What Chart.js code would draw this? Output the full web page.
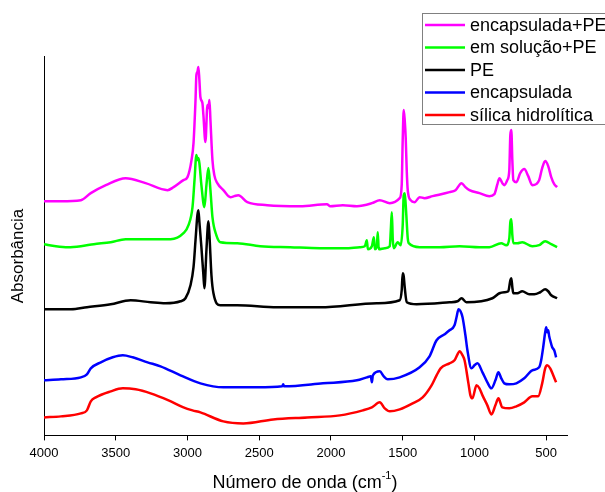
<!DOCTYPE html>
<html>
<head>
<meta charset="utf-8">
<script src="https://cdn.jsdelivr.net/npm/chart.js@4.4.0/dist/chart.umd.min.js"></script>
<style>
  html, body { margin: 0; padding: 0; background: #fff; }
  #wrap { width: 605px; height: 492px; }
</style>
</head>
<body>
<div id="wrap"><canvas id="ftir" width="605" height="492"></canvas></div>
<script>
// x ticks (cm-1)
const tickValues = [4000, 3500, 3000, 2500, 2000, 1500, 1000, 500];

const seriesNames = ["encapsulada+PE", "em solução+PE", "PE", "encapsulada", "sílica hidrolítica"];
const seriesColors = ["#ff00ff", "#00ff00", "#000000", "#0000ff", "#ff0000"];

// encapsulada+PE
const encPeWn = [4000,3882,3743,3674,3569,3431,3292,3139,3097,3028,3000,2972,2958,2944,2938,2931,2924,2917,2910,2896,2889,2875,2861,2854,2847,2840,2826,2813,2792,2750,2701,2674,2646,2583,2444,2215,2028,2007,1917,1819,1715,1660,1590,1521,1507,1500,1493,1486,1479,1472,1465,1445,1417,1382,1347,1292,1174,1132,1090,1063,1035,965,896,861,840,826,806,792,771,757,750,743,736,729,708,681,653,625,597,570,549,528,507,486,465,444,424];
const encPeAbs = [2.34,2.34,2.35,2.42,2.50,2.57,2.52,2.45,2.48,2.55,2.58,2.75,2.92,3.35,3.60,3.63,3.68,3.55,3.38,3.32,3.20,2.93,3.30,3.27,3.35,3.15,2.75,2.60,2.52,2.45,2.38,2.39,2.40,2.33,2.30,2.29,2.31,2.29,2.30,2.29,2.32,2.35,2.32,2.37,2.50,2.95,3.25,3.15,2.97,2.65,2.45,2.35,2.33,2.38,2.37,2.39,2.43,2.45,2.52,2.48,2.45,2.42,2.39,2.41,2.51,2.57,2.52,2.50,2.55,2.65,3.00,3.05,2.75,2.55,2.53,2.62,2.66,2.59,2.50,2.51,2.55,2.67,2.74,2.69,2.58,2.51,2.48];

// em solução+PE
const solPeWn = [4000,3917,3833,3743,3653,3535,3431,3257,3118,3028,2993,2965,2951,2938,2931,2924,2917,2903,2882,2868,2854,2840,2826,2799,2771,2653,2493,2285,2076,1903,1799,1764,1750,1743,1715,1701,1694,1681,1674,1667,1625,1590,1583,1576,1569,1562,1535,1514,1500,1493,1486,1479,1472,1465,1458,1382,1243,1104,965,896,813,778,757,750,743,736,729,701,667,597,549,507,465,424];
const solPeAbs = [1.91,1.89,1.88,1.89,1.91,1.93,1.96,1.96,1.96,2.02,2.10,2.28,2.55,2.80,2.75,2.77,2.72,2.50,2.28,2.50,2.67,2.45,2.18,2.00,1.93,1.92,1.89,1.88,1.87,1.87,1.88,1.89,1.95,1.86,1.89,1.98,1.86,1.88,2.03,1.86,1.87,1.89,2.05,2.23,1.95,1.87,1.93,1.90,2.10,2.40,2.42,2.30,2.13,1.97,1.92,1.88,1.88,1.89,1.88,1.88,1.92,1.90,1.97,2.13,2.16,2.00,1.92,1.92,1.93,1.89,1.90,1.94,1.91,1.88];

// PE
const peWn = [4000,3812,3701,3535,3396,3257,3153,3049,3014,2979,2958,2944,2931,2924,2917,2903,2889,2882,2868,2854,2847,2833,2819,2771,2653,2375,2076,1681,1521,1507,1500,1493,1486,1472,1403,1174,1118,1090,1056,875,826,792,764,750,743,736,729,701,667,618,583,542,507,486,465,424];
const peAbs = [1.26,1.26,1.28,1.31,1.35,1.33,1.32,1.34,1.37,1.50,1.68,1.95,2.20,2.25,2.13,1.88,1.60,1.47,1.85,2.14,2.00,1.60,1.42,1.30,1.30,1.28,1.28,1.32,1.35,1.45,1.62,1.59,1.48,1.33,1.31,1.33,1.34,1.37,1.33,1.37,1.42,1.43,1.44,1.55,1.57,1.48,1.42,1.42,1.44,1.41,1.41,1.43,1.46,1.44,1.40,1.37];

// encapsulada
const encWn = [4000,3882,3743,3701,3674,3604,3521,3451,3382,3278,3188,3049,2910,2750,2514,2340,2333,2326,2056,1819,1750,1722,1715,1708,1660,1632,1604,1521,1382,1313,1264,1208,1174,1139,1125,1111,1097,1083,1063,1049,1021,1000,979,944,910,882,854,833,813,792,757,708,653,597,549,535,521,507,500,493,486,479,472,458,444,431];
const encAbs = [0.55,0.56,0.58,0.61,0.67,0.73,0.78,0.80,0.78,0.73,0.69,0.60,0.52,0.48,0.48,0.49,0.51,0.49,0.52,0.55,0.58,0.59,0.53,0.60,0.64,0.59,0.56,0.58,0.68,0.79,0.95,1.01,1.05,1.10,1.18,1.26,1.24,1.18,1.00,0.85,0.67,0.70,0.72,0.63,0.53,0.47,0.55,0.63,0.57,0.52,0.51,0.52,0.57,0.65,0.68,0.75,0.88,1.03,1.08,1.03,1.05,0.99,0.95,0.88,0.85,0.78];

// sílica hidrolítica
const silWn = [4000,3882,3743,3701,3674,3639,3535,3451,3361,3257,3132,3028,2965,2910,2750,2611,2403,2167,1938,1778,1715,1660,1625,1590,1521,1431,1361,1299,1264,1236,1174,1139,1118,1104,1083,1069,1042,1028,1014,986,965,944,910,882,854,833,806,757,708,653,597,556,528,507,493,472,451,431];
const silAbs = [0.18,0.19,0.22,0.25,0.34,0.38,0.44,0.47,0.46,0.42,0.35,0.28,0.25,0.23,0.14,0.12,0.16,0.18,0.20,0.25,0.28,0.33,0.27,0.24,0.26,0.32,0.38,0.50,0.60,0.67,0.72,0.75,0.81,0.84,0.80,0.75,0.52,0.40,0.37,0.50,0.47,0.40,0.30,0.21,0.30,0.37,0.28,0.27,0.29,0.33,0.39,0.39,0.52,0.67,0.70,0.67,0.60,0.53];

const allWn = [encPeWn, solPeWn, peWn, encWn, silWn];
const allAbs = [encPeAbs, solPeAbs, peAbs, encAbs, silAbs];

const FONT = "'Liberation Sans', Arial, sans-serif";

const datasets = seriesNames.map((name, i) => ({
  label: name,
  data: allWn[i].map((w, j) => ({ x: w, y: allAbs[i][j] })),
  borderColor: seriesColors[i],
  borderWidth: 2.5,
  pointRadius: 0,
  fill: false,
  cubicInterpolationMode: "monotone"
}));

// legend box + axis titles
const extras = {
  id: "extras",
  afterDraw(chart) {
    const ctx = chart.ctx;
    ctx.save();

    // legend
    ctx.fillStyle = "#fff";
    ctx.fillRect(422, 13, 200, 111);
    ctx.strokeStyle = "#808080";
    ctx.lineWidth = 1;
    ctx.strokeRect(422.5, 13.5, 200, 111);
    ctx.font = "18px " + FONT;
    ctx.textBaseline = "middle";
    ctx.textAlign = "left";
    seriesNames.forEach((name, i) => {
      const y = 25 + i * 22.5;
      ctx.strokeStyle = seriesColors[i];
      ctx.lineWidth = 2.5;
      ctx.beginPath();
      ctx.moveTo(425, y);
      ctx.lineTo(465, y);
      ctx.stroke();
      ctx.fillStyle = "#000";
      ctx.fillText(name, 470, y + 1);
    });

    // x title with superscript
    ctx.fillStyle = "#000";
    ctx.font = "18px " + FONT;
    const a = "Número de onda (cm", sup = "-1", b = ")";
    const wa = ctx.measureText(a).width;
    ctx.font = "11px " + FONT;
    const ws = ctx.measureText(sup).width;
    ctx.font = "18px " + FONT;
    const wb = ctx.measureText(b).width;
    let x0 = 305 - (wa + ws + wb) / 2;
    ctx.fillText(a, x0, 483);
    ctx.font = "11px " + FONT;
    ctx.fillText(sup, x0 + wa, 476);
    ctx.font = "18px " + FONT;
    ctx.fillText(b, x0 + wa + ws, 483);

    // y title
    ctx.translate(18, 256);
    ctx.rotate(-Math.PI / 2);
    ctx.textAlign = "center";
    ctx.font = "17px " + FONT;
    ctx.fillText("Absorbância", 0, 0);

    ctx.restore();
  }
};

new Chart(document.getElementById("ftir"), {
  type: "line",
  data: { datasets },
  options: {
    responsive: false,
    animation: false,
    layout: { padding: { left: 36, right: 38, top: 56, bottom: 26 } },
    plugins: { legend: { display: false }, tooltip: { enabled: false } },
    scales: {
      x: {
        type: "linear",
        reverse: true,
        min: 355,
        max: 4000,
        afterBuildTicks: axis => { axis.ticks = tickValues.map(v => ({ value: v })); },
        ticks: {
          color: "#000",
          font: { family: FONT, size: 13 },
          padding: 5,
          maxRotation: 0,
          autoSkip: false,
          callback: v => String(v)
        },
        grid: { drawOnChartArea: false, drawTicks: true, tickLength: 5, color: "#000" },
        border: { color: "#000", width: 1 }
      },
      y: {
        min: 0,
        max: 3.79,
        ticks: { display: false },
        grid: { display: false },
        border: { color: "#000", width: 1 }
      }
    }
  },
  plugins: [extras]
});
</script>
</body>
</html>
